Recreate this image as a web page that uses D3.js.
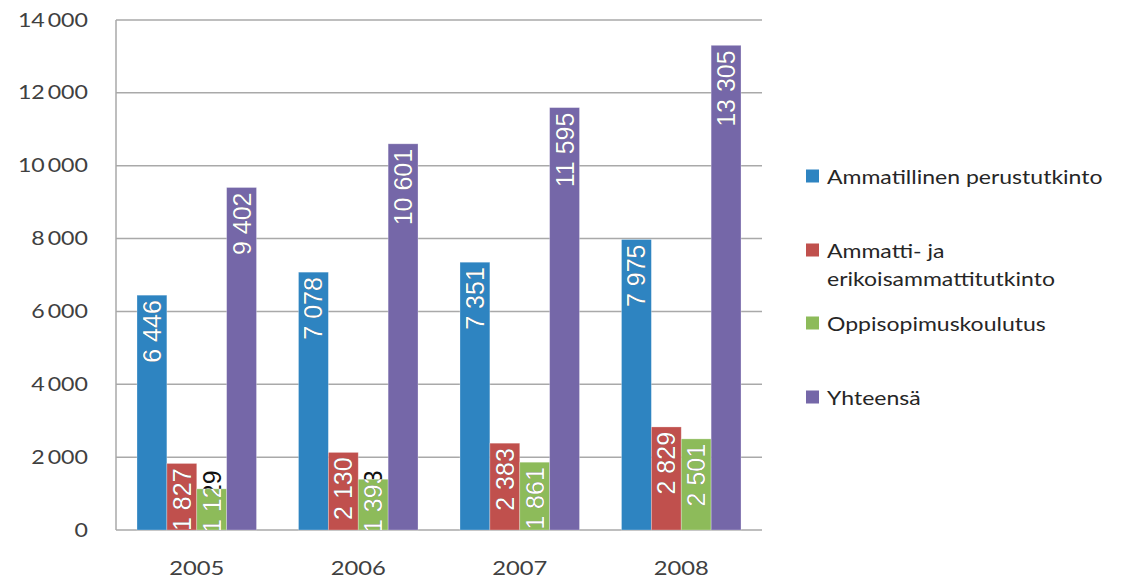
<!DOCTYPE html>
<html>
<head>
<meta charset="utf-8">
<script src="https://cdn.jsdelivr.net/npm/d3@7"></script>
<style>
  html, body { margin: 0; padding: 0; background: #fff; }
  svg { display: block; }
</style>
</head>
<body>
<svg id="chart" width="1146" height="579"></svg>
<script>
// Tutkinnot vuosittain
const years = ["2005", "2006", "2007", "2008"];
const seriesNames = [
  "Ammatillinen perustutkinto",
  "Ammatti- ja erikoisammattitutkinto",
  "Oppisopimuskoulutus",
  "Yhteensä"
];
const perustutkinto = [6446, 7078, 7351, 7975];
const ammattitutkinto = [1827, 2130, 2383, 2829];
const oppisopimus = [1129, 1393, 1861, 2501];
const yhteensa = [9402, 10601, 11595, 13305];
const yTicks = [0, 2000, 4000, 6000, 8000, 10000, 12000, 14000];
const legendLines = [
  ["Ammatillinen perustutkinto"],
  ["Ammatti- ja", "erikoisammattitutkinto"],
  ["Oppisopimuskoulutus"],
  ["Yhteensä"]
];
const colors = ["#2e84c1", "#c0504d", "#8dbb5a", "#7567a8"];

const seriesValues = [perustutkinto, ammattitutkinto, oppisopimus, yhteensa];
const rows = [];
years.forEach((yr, i) => {
  seriesValues.forEach((vals, s) => rows.push({ year: yr, s, value: vals[i] }));
});

const svg = d3.select("#chart");
const plot = { left: 116, right: 762, top: 20, bottom: 530 };

const x = d3.scaleBand().domain(years).range([plot.left, plot.right])
  .paddingInner(0.26).paddingOuter(0.13);
const xs = d3.scaleBand().domain(d3.range(seriesNames.length)).range([0, x.bandwidth()]);
const y = d3.scaleLinear().domain([0, 14000]).range([plot.bottom, plot.top]);

const fmt = v => d3.format(",")(v).replace(/,/g, " ");
const fmtTick = v => d3.format(",")(v).replace(/,/g, "\u2009");

// widen a text horizontally by a factor, keeping its anchor
function widen(sel, factor) {
  sel.each(function () {
    const len = this.getComputedTextLength();
    d3.select(this).attr("textLength", len * factor).attr("lengthAdjust", "spacingAndGlyphs");
  });
}

// gridlines
const gridColor = "#a9a9a9";
svg.append("g").selectAll("line").data(yTicks).join("line")
  .attr("x1", plot.left).attr("x2", plot.right)
  .attr("y1", d => y(d)).attr("y2", d => y(d))
  .attr("stroke", gridColor).attr("stroke-width", 1.5);

svg.append("line")
  .attr("x1", plot.left).attr("x2", plot.left)
  .attr("y1", plot.top).attr("y2", plot.bottom)
  .attr("stroke", gridColor).attr("stroke-width", 1.5);

// y tick labels
const yAxis = d3.axisLeft(y).tickValues(yTicks).tickFormat(fmtTick).tickSize(0).tickPadding(28);
const yg = svg.append("g").attr("transform", `translate(${plot.left},0)`).call(yAxis);
yg.select(".domain").remove();
yg.selectAll("text")
  .attr("font-family", "Lato, 'Open Sans', sans-serif")
  .attr("font-size", 19).attr("fill", "#404040")
  .call(widen, 1.22);

// x labels
const xAxis = d3.axisBottom(x).tickSize(0).tickPadding(32);
const xg = svg.append("g").attr("transform", `translate(0,${plot.bottom})`).call(xAxis);
xg.select(".domain").remove();
xg.selectAll("text")
  .attr("font-family", "Lato, 'Open Sans', sans-serif")
  .attr("font-size", 19).attr("fill", "#404040")
  .call(widen, 1.25);

// clip for the plot
const defs = svg.append("defs");
defs.append("clipPath").attr("id", "plotClip").append("rect")
  .attr("x", plot.left).attr("y", 0)
  .attr("width", plot.right - plot.left).attr("height", plot.bottom);

const barX = d => x(d.year) + xs(d.s);
const barW = xs.bandwidth();

// bars
svg.append("g").selectAll("rect").data(rows).join("rect")
  .attr("x", barX).attr("width", barW)
  .attr("y", d => y(d.value)).attr("height", d => plot.bottom - y(d.value))
  .attr("fill", d => colors[d.s])
  .attr("stroke", "rgba(255,255,255,0.35)").attr("stroke-width", 0.8);

// bar clips for the white part of labels
rows.forEach((d, i) => {
  defs.append("clipPath").attr("id", "bar" + i).append("rect")
    .attr("x", barX(d)).attr("width", barW)
    .attr("y", y(d.value)).attr("height", Math.max(0, plot.bottom - y(d.value)));
});

// value labels (rotated, inside end); white inside the bar, dark beyond it
const labelsDark = svg.append("g").attr("clip-path", "url(#plotClip)");
const labelsLight = svg.append("g").attr("clip-path", "url(#plotClip)");
rows.forEach((d, i) => {
  const cx = barX(d) + barW / 2;
  const probe = labelsDark.append("text")
    .attr("font-family", "'Liberation Sans', Arial, sans-serif")
    .attr("font-size", 25).text(fmt(d.value));
  const len = probe.node().getComputedTextLength();
  probe.remove();
  const topY = Math.min(y(d.value) + 5, plot.bottom - len + 3);
  const mk = (g, fill) => g.append("text")
    .attr("font-family", "'Liberation Sans', Arial, sans-serif")
    .attr("font-size", 25)
    .attr("fill", fill)
    .attr("text-anchor", "end")
    .attr("dominant-baseline", "central")
    .attr("transform", `translate(${cx},${topY}) rotate(-90)`)
    .text(fmt(d.value));
  mk(labelsDark, "#111");
  mk(labelsLight.append("g").attr("clip-path", `url(#bar${i})`), "#fff");
});

// legend
const legendRows = [176, 250, 323, 397];
const lg = svg.append("g");
legendLines.forEach((lines, i) => {
  const cy = legendRows[i];
  lg.append("rect").attr("x", 806).attr("y", cy - 6.5)
    .attr("width", 13).attr("height", 13).attr("fill", colors[i]);
  lines.forEach((ln, j) => {
    lg.append("text")
      .attr("x", 827).attr("y", cy + j * 28)
      .attr("dominant-baseline", "central")
      .attr("font-family", "Lato, 'Open Sans', sans-serif")
      .attr("font-size", 20).attr("fill", "#262626")
      .text(ln)
      .call(widen, 1.15);
  });
});
</script>
</body>
</html>
